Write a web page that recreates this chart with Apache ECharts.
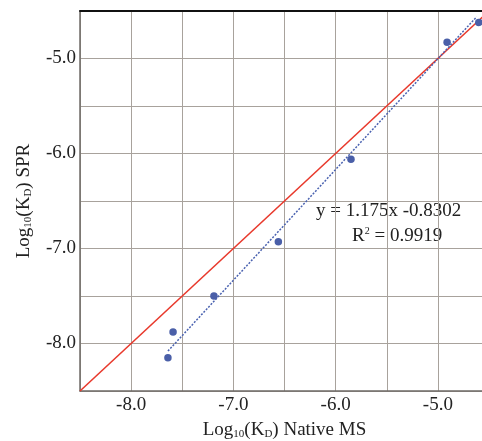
<!DOCTYPE html>
<html>
<head>
<meta charset="utf-8">
<script src="https://cdn.jsdelivr.net/npm/echarts@6/dist/echarts.min.js"></script>
<style>
html,body{margin:0;padding:0;background:#fff;}
#c{width:482px;height:441px;}
</style>
</head>
<body>
<div id="c"></div>
<script>
// Data
const nativeMS = [-7.64, -7.59, -7.19, -6.56, -5.85, -4.91, -4.60];
const spr      = [-8.15, -7.88, -7.50, -6.93, -6.06, -4.83, -4.62];
const identityX = [-8.5, -4.5];
const identityY = [-8.5, -4.5];
const fitX = [-7.64, -4.62];
const fitY = [-8.08, -4.56];
const eqText = 'y = 1.175x -0.8302';
const r2Text = '0.9919';

const FONT = '"Liberation Serif", "Times New Roman", serif';
const chart = echarts.init(document.getElementById('c'), null, {renderer: 'canvas'});
const zip = (a, b) => a.map((v, i) => [v, b[i]]);
const intLabel = v => (Math.abs(v - Math.round(v)) < 1e-9 ? v.toFixed(1) : '');

chart.setOption({
  animation: false,
  backgroundColor: '#fff',
  grid: {left: 80, top: 11, right: -7, bottom: 50, containLabel: false, outerBoundsMode: 'none'},
  xAxis: [{
    type: 'value', min: -8.5, max: -4.5, interval: 0.5,
    axisLine: {show: true, onZero: false, lineStyle: {color: '#6e6a66', width: 1.5}},
    axisTick: {show: false},
    splitLine: {show: true, lineStyle: {color: '#a8a29c', width: 1}},
    axisLabel: {formatter: intLabel, fontFamily: FONT, fontSize: 19, color: '#222', margin: 5},
    name: '{n|Log}{s|10}{n|(K}{s|D}{n|) Native MS}',
    nameLocation: 'middle', nameGap: 29,
    nameTextStyle: {
      rich: {
        n: {fontFamily: FONT, fontSize: 19, color: '#222', lineHeight: 20},
        s: {fontFamily: FONT, fontSize: 11, color: '#222', verticalAlign: 'bottom', lineHeight: 20, padding: [6, 0, 0, 0]}
      }
    }
  }, {
    type: 'value', position: 'top', min: -8.5, max: -4.5,
    axisLine: {show: true, onZero: false, lineStyle: {color: '#111', width: 2}},
    axisTick: {show: false}, axisLabel: {show: false}, splitLine: {show: false}
  }],
  yAxis: {
    type: 'value', min: -8.5, max: -4.5, interval: 0.5,
    axisLine: {show: true, onZero: false, lineStyle: {color: '#6e6a66', width: 1.5}},
    axisTick: {show: false},
    splitLine: {show: true, lineStyle: {color: '#a8a29c', width: 1}},
    axisLabel: {formatter: intLabel, fontFamily: FONT, fontSize: 19, color: '#222', margin: 4},
    name: '{n|Log}{s|10}{n|(K}{s|D}{n|) SPR}',
    nameLocation: 'middle', nameGap: 46, nameRotate: 90,
    nameTextStyle: {
      rich: {
        n: {fontFamily: FONT, fontSize: 19, color: '#222', lineHeight: 20},
        s: {fontFamily: FONT, fontSize: 11, color: '#222', verticalAlign: 'bottom', lineHeight: 20, padding: [6, 0, 0, 0]}
      }
    }
  },
  series: [
    {
      type: 'line', data: zip(identityX, identityY), showSymbol: false,
      lineStyle: {color: '#e8392c', width: 1.6}, z: 3
    },
    {
      type: 'line', data: zip(fitX, fitY), showSymbol: false,
      lineStyle: {color: '#4a62b0', width: 1.5, type: [2, 1.5]}, z: 4
    },
    {
      type: 'scatter', data: zip(nativeMS, spr), symbolSize: 7.5,
      itemStyle: {color: '#4a5fa8', opacity: 1}, z: 5
    }
  ],
  graphic: [
    {type: 'text', left: 316, top: 202, style: {text: eqText, font: '19px ' + FONT, fill: '#222'}},
    {type: 'text', left: 352, top: 226, style: {
      text: '{n|R}{p|2}{n| = ' + r2Text + '}',
      rich: {
        n: {font: '19px ' + FONT, fill: '#222', lineHeight: 20},
        p: {font: '10px ' + FONT, fill: '#222', verticalAlign: 'top', lineHeight: 20, padding: [0, 0, 6, 0]}
      }
    }}
  ]
});
</script>
</body>
</html>
